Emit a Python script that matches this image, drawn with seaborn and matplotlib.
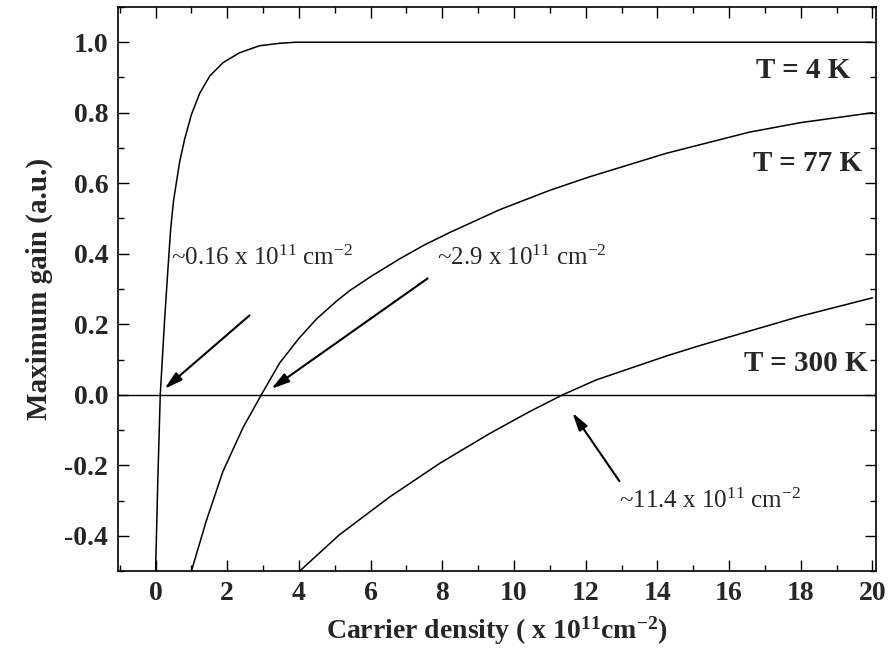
import numpy as np
import pandas as pd
import matplotlib
matplotlib.use("Agg")
import matplotlib.pyplot as plt
import seaborn as sns

# --- data (carrier density in 1e11 cm^-2, gain a.u.) ---
n_4K = [0.0, 0.06, 0.13, 0.25, 0.34, 0.42, 0.5, 0.67, 0.81, 1.0, 1.23, 1.51,
        1.88, 2.34, 2.9, 3.46, 3.92, 6.0, 10.0, 15.0, 20.0]
g_4K = [-0.5, -0.25, 0.0, 0.21, 0.35, 0.47, 0.55, 0.66, 0.725, 0.795, 0.855,
        0.904, 0.942, 0.970, 0.990, 0.997, 1.0, 1.0, 1.0, 1.0, 1.0]

n_77K = [1.0, 1.41, 1.88, 2.44, 2.95, 3.46, 4.0, 4.49, 5.04, 5.41, 6.0, 6.8,
         7.5, 8.2, 9.6, 11.0, 12.1, 14.25, 16.57, 18.0, 20.0]
g_77K = [-0.5, -0.359, -0.217, -0.093, 0.0, 0.09, 0.16, 0.215, 0.265, 0.295,
         0.335, 0.385, 0.425, 0.46, 0.525, 0.58, 0.618, 0.685, 0.745, 0.772, 0.80]

n_300K = [4.02, 5.13, 6.53, 7.92, 9.32, 10.43, 11.36, 12.29, 14.25, 15.2,
          17.96, 20.0]
g_300K = [-0.5, -0.397, -0.29, -0.195, -0.11, -0.048, 0.0, 0.042, 0.11, 0.14,
          0.222, 0.275]

labels = ["T = 4 K", "T = 77 K", "T = 300 K"]
label_x = [19.39, 19.72, 19.86]
label_y = [0.92, 0.655, 0.09]

marks = ["~0.16 x 10$^{11}$ cm$^{-2}$", "~2.9 x 10$^{11}$ cm$^{-2}$",
         "~11.4 x 10$^{11}$ cm$^{-2}$"]
mark_xy = [(0.25, 0.017), (3.23, 0.017), (11.63, -0.051)]      # arrow heads
mark_tail = [(2.62, 0.225), (7.59, 0.33), (12.94, -0.245)]     # arrow tails
mark_text = [(0.42, 0.367), (7.85, 0.367), (12.94, -0.32)]

df = pd.concat([
    pd.DataFrame({"n": n_4K, "g": g_4K, "T": "4K"}),
    pd.DataFrame({"n": n_77K, "g": g_77K, "T": "77K"}),
    pd.DataFrame({"n": n_300K, "g": g_300K, "T": "300K"}),
])

sns.set_theme(style="ticks")
plt.rcParams["font.family"] = ["Liberation Serif", "DejaVu Serif"]
plt.rcParams["mathtext.default"] = "regular"

fig = plt.figure(figsize=(8.95, 6.64), dpi=100)
ax = fig.add_axes([0.1318, 0.140, 0.847, 0.8495])

sns.lineplot(data=df, x="n", y="g", units="T", estimator=None, color="black",
             linewidth=1.1, ax=ax, sort=False)
ax.axhline(0, color="black", linewidth=1.0)

ax.set_xlim(-1.05, 20.1)
ax.set_ylim(-0.5, 1.1)
ax.set_xticks(np.arange(0, 21, 2))
ax.set_xticks(np.arange(-1, 21, 1), minor=True)
ax.set_yticks([-0.4, -0.2, 0.0, 0.2, 0.4, 0.6, 0.8, 1.0])
ax.set_yticks(np.arange(-0.5, 1.11, 0.1), minor=True)
ax.yaxis.set_major_formatter(matplotlib.ticker.FormatStrFormatter("%.1f"))
ax.tick_params(which="both", direction="in", top=True, right=True,
               color="black", width=1.0)
ax.tick_params(which="major", length=8, labelsize=20, pad=7)
ax.tick_params(which="minor", length=4)
for lab in ax.get_xticklabels() + ax.get_yticklabels():
    lab.set_fontweight("bold")
for s in ax.spines.values():
    s.set_color("black")
    s.set_linewidth(1.2)

ax.set_xlabel("Carrier density ( x 10$^{11}$cm$^{-2}$)", fontsize=20,
              fontweight="bold", labelpad=6)
ax.set_ylabel("Maximum gain (a.u.)", fontsize=21, fontweight="bold", labelpad=8)

for lab, x, y in zip(labels, label_x, label_y):
    ax.text(x, y, lab, ha="right", va="center", fontsize=21, fontweight="bold")

for txt, xy, tail, tpos in zip(marks, mark_xy, mark_tail, mark_text):
    ax.annotate("", xy=xy, xytext=tail,
                arrowprops=dict(arrowstyle="-|>,head_length=0.9,head_width=0.25",
                                color="black", lw=1.5, shrinkA=0, shrinkB=0))
    ax.text(tpos[0], tpos[1], txt, fontsize=18, va="baseline", ha="left")

fig.savefig("out.png", dpi=100)
